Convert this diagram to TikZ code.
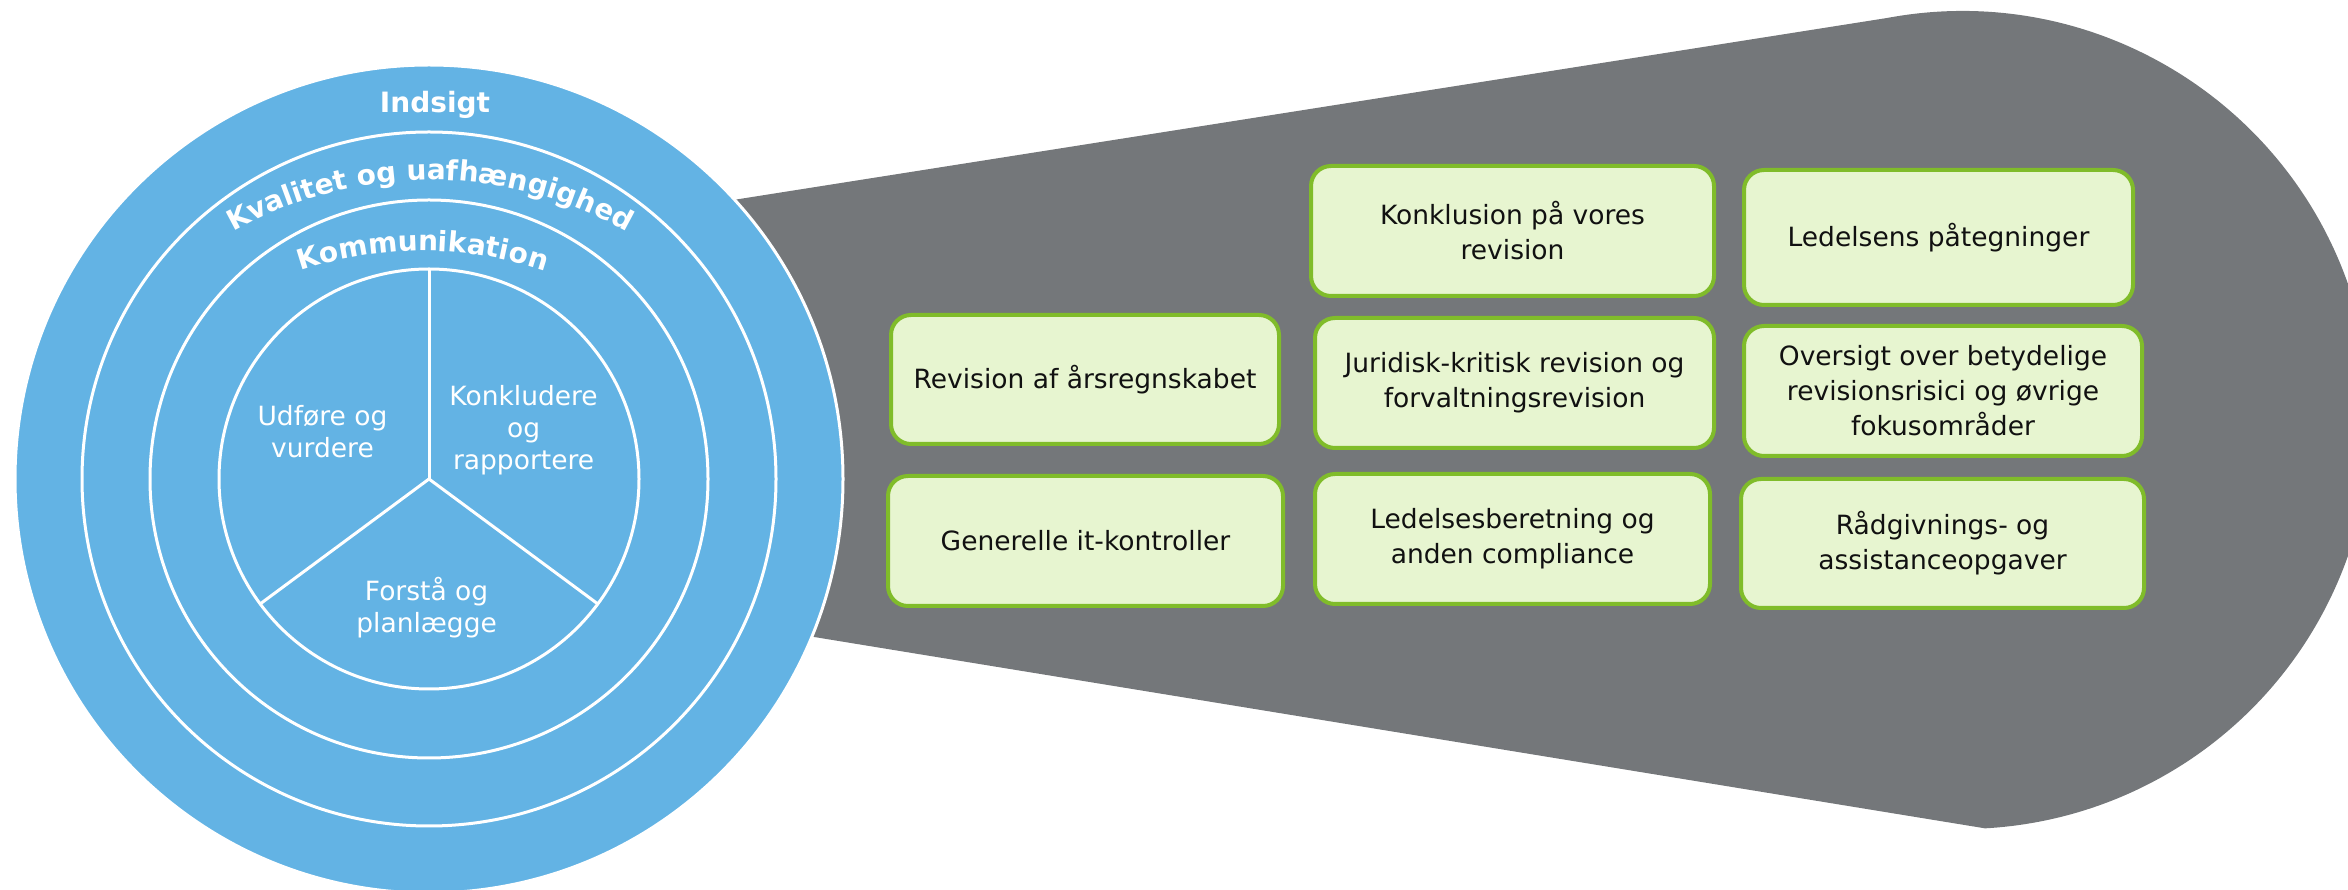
\documentclass[tikz,border=0pt]{standalone}
\usepackage{fontspec}
\setmainfont{DejaVu Sans}
\usetikzlibrary{decorations.text}

\definecolor{funnelgrey}{RGB}{116,119,122}
\definecolor{ringblue}{RGB}{99,179,228}
\definecolor{boxgreen}{RGB}{128,188,42}
\definecolor{boxfill}{RGB}{231,245,208}
\definecolor{boxtext}{RGB}{17,17,17}

\newcommand{\ringfont}{\bfseries\fontsize{28}{32}\selectfont}
\newcommand{\piefont}{\fontsize{26.5}{32}\selectfont}
\newcommand{\cardfont}{\fontsize{26.5}{35}\selectfont}

\tikzset{
  card/.style={draw=boxgreen, fill=boxfill, line width=4pt,
    rounded corners=20pt, inner sep=0pt, align=center,
    text=boxtext, font=\cardfont},
  pietext/.style={text=white, align=center, font=\piefont, inner sep=0pt},
  ringline/.style={draw=white, line width=3pt},
  arctext/.style={decorate, decoration={text along path, text align=center,
    text color=white}}
}

\begin{document}
\begin{tikzpicture}[x=1pt, y=1pt]
  \useasboundingbox (0,0) rectangle (2348,889);
  \clip (0,0) rectangle (2348,889);

  % grey funnel behind the rings
  \fill[funnelgrey] (600,668) -- (1887,871)
    arc[start angle=100.6, end angle=-86.8, radius=409]
    -- (600,287) -- cycle;

  % concentric rings
  \coordinate (C) at (429,410);
  \fill[ringblue, ringline] (C) circle[radius=414];
  \draw[ringline] (C) circle[radius=347];
  \draw[ringline] (C) circle[radius=279];
  \draw[ringline] (C) circle[radius=210];

  % three sectors of the inner disc
  \draw[ringline] (C) -- ++(90:210);
  \draw[ringline] (C) -- ++(216.5:210);
  \draw[ringline] (C) -- ++(323.5:210);

  % ring titles
  \node[text=white, font=\ringfont, anchor=base, inner sep=0pt] (indsigt) at (435,776) {Indsigt};
  \path[arctext, decoration={text={|\ringfont|Kvalitet og uafhængighed}}]
    (83.6,509) arc[start angle=150, end angle=30, radius=400];
  \path[arctext, decoration={text={|\ringfont|Kommunikation}}]
    (131.9,502.3) arc[start angle=140, end angle=40, radius=380];

  % sector labels
  \node[pietext] (udfore) at (322.5,457) {Udføre og\\vurdere};
  \node[pietext] (konkludere) at (523.6,459) {Konkludere\\og\\rapportere};
  \node[pietext] (forsta) at (426.6,281.5) {Forstå og\\planlægge};

  % task cards
  \node[card, minimum width=388pt, minimum height=129pt] (b1) at (1085,509.5) {Revision af årsregnskabet};
  \node[card, minimum width=395pt, minimum height=130pt] (b2) at (1085.5,348) {Generelle it-kontroller};
  \node[card, minimum width=403pt, minimum height=130pt] (b3) at (1512.5,658) {Konklusion på vores\\revision};
  \node[card, minimum width=399pt, minimum height=130pt] (b4) at (1514.5,506) {Juridisk-kritisk revision og\\forvaltningsrevision};
  \node[card, minimum width=395pt, minimum height=130pt] (b5) at (1512.5,350) {Ledelsesberetning og\\anden compliance};
  \node[card, minimum width=389pt, minimum height=135pt] (b6) at (1938.5,651.5) {Ledelsens påtegninger};
  \node[card, minimum width=398pt, minimum height=130pt] (b7) at (1943,498) {Oversigt over betydelige\\revisionsrisici og øvrige\\fokusområder};
  \node[card, minimum width=403pt, minimum height=129pt] (b8) at (1942.5,345.5) {Rådgivnings- og\\assistanceopgaver};
\end{tikzpicture}
\end{document}
